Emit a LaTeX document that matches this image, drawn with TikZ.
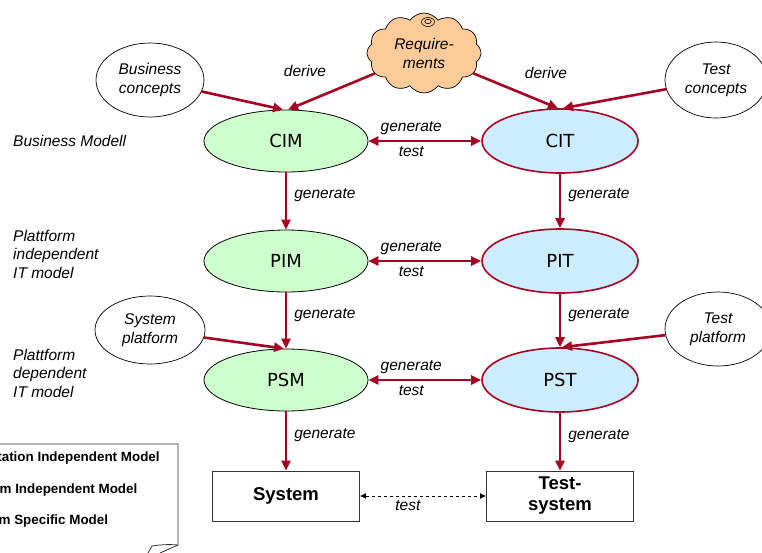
\documentclass[tikz,border=0pt]{standalone}
\usepackage{fontspec}
\setmainfont{Liberation Sans}
\newfontfamily\verd{DejaVu Sans}
\usetikzlibrary{shapes.geometric,shapes.symbols,arrows.meta,calc}
\definecolor{arr}{RGB}{165,0,33}
\definecolor{gfill}{RGB}{204,255,204}
\definecolor{bfill}{RGB}{204,236,255}
\definecolor{cfill}{RGB}{255,204,153}
\tikzset{
  lbl/.style={font=\fontsize{15.5}{18.5}\selectfont\itshape, inner sep=1pt, align=center},
  model/.style={ellipse, minimum width=164, minimum height=62, inner sep=0, font=\verd\fontsize{18}{20}\selectfont},
  mgreen/.style={model, fill=gfill, draw=black, line width=0.8},
  mblue/.style={model, fill=bfill, draw=arr, line width=1.6, minimum width=156, minimum height=64},
  src/.style={ellipse, draw=black, line width=0.7, fill=white, minimum width=108, minimum height=72, inner sep=0, font=\fontsize{15.5}{19}\selectfont\itshape, align=center},
  sysbox/.style={rectangle, draw=black!80, line width=0.9, minimum width=147, minimum height=50, inner sep=0, font=\fontsize{18.5}{20}\selectfont\bfseries, align=center},
  flow/.style={draw=arr, line width=2.6, -{Triangle[length=10,width=9]}},
  both/.style={draw=arr, line width=2.6, {Triangle[length=10,width=9]}-{Triangle[length=10,width=9]}},
  side/.style={lbl, font=\fontsize{15.5}{18.5}\selectfont\itshape, align=left, anchor=west},
  leg/.style={anchor=west, font=\fontsize{13.4}{14}\selectfont\bfseries, inner sep=0}
}
\begin{document}
\begin{tikzpicture}[x=1pt,y=-1pt]
\useasboundingbox (0,0) rectangle (762,552);
\clip (0,0) rectangle (762,552);
\fill[white] (0,0) rectangle (762,552);

% model nodes
\node[mgreen] (cim) at (286,141) {CIM};
\node[mblue]  (cit) at (560,141) {CIT};
\node[mgreen] (pim) at (286,261) {PIM};
\node[mblue]  (pit) at (560,261) {PIT};
\node[mgreen] (psm) at (286,380) {PSM};
\node[mblue]  (pst) at (560,380) {PST};
\node[sysbox] (sys) at (286,496) {System};
\node[sysbox] (tsys) at (560,496) {Test-\\[1pt]system};

% source ovals
\node[src, minimum height=74] (bc) at (150,80) {Business\\concepts};
\node[src, minimum width=102, minimum height=76] (tc) at (716,80) {Test\\concepts};
\node[src, minimum width=110, minimum height=68] (sp) at (150,330) {System\\platform};
\node[src, minimum width=106, minimum height=74] (tp) at (718,329) {Test\\platform};

% cloud
\node[cloud, cloud puffs=12, cloud puff arc=110, aspect=1.45, draw=black, line width=0.7, fill=cfill, minimum width=114, minimum height=80, inner sep=0, font=\fontsize{15.5}{19}\selectfont\itshape, align=center] (req) at (424,53) {Require-\\ments};
\draw[line width=0.6, fill=cfill] (428,22) ellipse [x radius=6.5, y radius=4.5];
\draw[line width=0.6] (428,21.5) ellipse [x radius=3.2, y radius=2.2];

% derive arrows
\draw[flow] (bc) -- ($(cim.north)+(-3,0)$);
\draw[flow] (req) -- ($(cim.north)+(2,0)$);
\draw[flow] (req) -- ($(cit.north)+(-2,0)$);
\draw[flow] (tc) -- ($(cit.north)+(3,0)$);
\draw[flow] (sp) -- ($(psm.north)+(-2,0)$);
\draw[flow] (tp) -- ($(pst.north)+(2,0)$);
\node[lbl] (dl) at (305,71) {derive};
\node[lbl] (dr) at (546,73) {derive};

% horizontal generate/test
\foreach \a/\b in {cim/cit, pim/pit, psm/pst}{
  \draw[both] (\a) -- (\b)
    node[lbl, pos=0.38, above=4pt] {generate}
    node[lbl, pos=0.38, below=3pt] {test};
}

% vertical generate
\foreach \a/\b in {cim/pim, pim/psm, psm/sys, cit/pit, pit/pst, pst/tsys}{
  \draw[flow] (\a.south) -- (\b.north) node[lbl, pos=0.4, right=6pt] {generate};
}

% system test
\draw[black, line width=0.8, dashed, {Latex[length=6,width=6]}-{Latex[length=6,width=6]}] (sys) -- (tsys)
  node[lbl, pos=0.38, below=3pt] {test};

% left level labels
\node[side] (l1) at (12,141) {Business Modell};
\node[side] (l2) at (12,254) {Plattform\\independent\\IT model};
\node[side] (l3) at (12,373) {Plattform\\dependent\\IT model};

% legend note
\draw[black!80, line width=0.8] (-5,444) -- (178,444) -- (178,545) -- (160,553);
\draw[black!80, line width=0.8] (178,545) .. controls (168,544) and (158,545) .. (152,546) -- (148,553);
\node[leg] (t1) at (-49,458) {Computation Independent Model};
\node[leg] (t2) at (-43,490) {Platform Independent Model};
\node[leg] (t3) at (-44,521) {Platform Specific Model};
\end{tikzpicture}
\end{document}
